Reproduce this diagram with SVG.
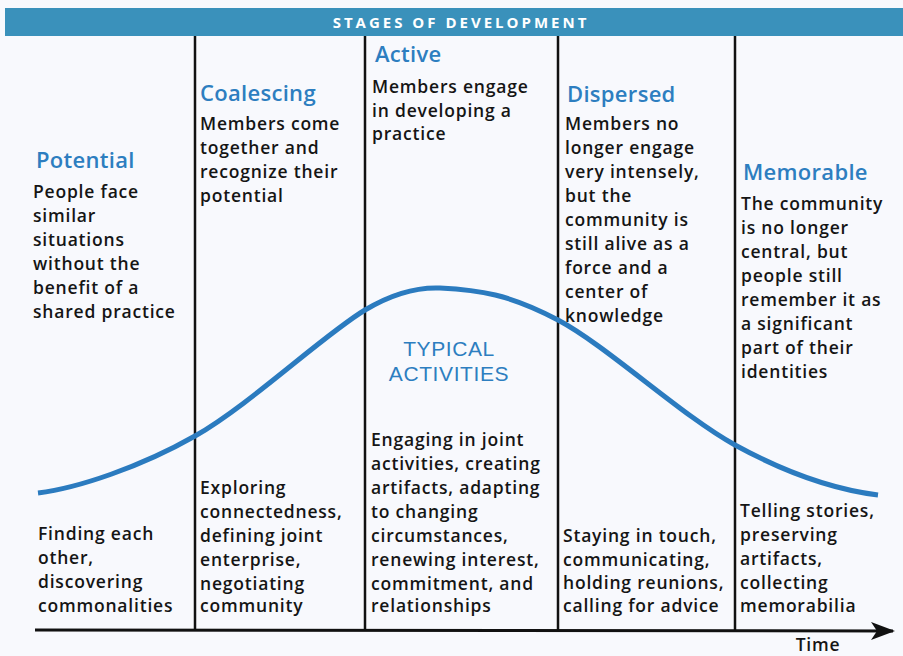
<svg xmlns="http://www.w3.org/2000/svg" width="903" height="656" viewBox="0 0 903 656">
<defs>
<style>
.t{font-family:"Open Sans","DejaVu Sans",sans-serif;font-size:22px;fill:#2D7EC0;font-weight:600;letter-spacing:0.3px}
.b{font-family:"Open Sans","DejaVu Sans",sans-serif;font-size:17.5px;fill:#151515;font-weight:600;letter-spacing:0.8px}
.h{font-family:"Open Sans","DejaVu Sans",sans-serif;font-size:15px;fill:#fff;font-weight:bold;letter-spacing:3px}
.a{font-family:"Liberation Sans","Open Sans",sans-serif;font-size:21px;fill:#2D7EC0;letter-spacing:0.6px}
.div{stroke:#111;stroke-width:2.5}
</style>
<marker id="ah" viewBox="0 0 24 18" refX="22" refY="9" markerWidth="24" markerHeight="18" markerUnits="userSpaceOnUse" orient="auto">
<path d="M0,0 L24,9 L0,18 L6,9 Z" fill="#111"/>
</marker>
</defs>
<rect width="903" height="656" fill="#F8F9FD"/>
<g id="header">
<rect x="5" y="8" width="898" height="28" fill="#3A91BB"/>
<text class="h" x="461" y="27.5" text-anchor="middle">STAGES OF DEVELOPMENT</text>
</g>
<g id="connectors">
<line class="div" x1="195" y1="36" x2="195" y2="630"/>
<line class="div" x1="365" y1="36" x2="365" y2="630"/>
<line class="div" x1="558" y1="36" x2="558" y2="630"/>
<line class="div" x1="735" y1="36" x2="735" y2="630"/>
<line x1="35" y1="630" x2="893" y2="631" stroke="#111" stroke-width="3" marker-end="url(#ah)"/>
<path d="M38,493 C78,488 140.5,467 195,436 C249.5,405 324,334.5 365,310 C390,295 415,287 440,288 C479,290 509,294 558,320 C607,346 682,416 735,445 C788,474 838,490 878,495" fill="none" stroke="#2B7BBF" stroke-width="5"/>
</g>
<g id="time"><text class="b" x="818" y="651" font-size="19" text-anchor="middle">Time</text></g>
<g id="potential">
<text class="t" x="36" y="168">Potential</text>
<text class="b"><tspan x="33" y="198">People face</tspan><tspan x="33" y="222">similar</tspan><tspan x="33" y="246">situations</tspan><tspan x="33" y="270">without the</tspan><tspan x="33" y="294">benefit of a</tspan><tspan x="33" y="318">shared practice</tspan></text>
</g>
<g id="coalescing">
<text class="t" x="200" y="101">Coalescing</text>
<text class="b"><tspan x="200" y="130">Members come</tspan><tspan x="200" y="154">together and</tspan><tspan x="200" y="178">recognize their</tspan><tspan x="200" y="202">potential</tspan></text>
</g>
<g id="active">
<text class="t" x="375" y="62">Active</text>
<text class="b"><tspan x="372" y="93">Members engage</tspan><tspan x="372" y="117">in developing a</tspan><tspan x="372" y="140">practice</tspan></text>
</g>
<g id="dispersed">
<text class="t" x="567" y="102">Dispersed</text>
<text class="b"><tspan x="565" y="130">Members no</tspan><tspan x="565" y="154">longer engage</tspan><tspan x="565" y="178">very intensely,</tspan><tspan x="565" y="202">but the</tspan><tspan x="565" y="226">community is</tspan><tspan x="565" y="250">still alive as a</tspan><tspan x="565" y="274">force and a</tspan><tspan x="565" y="298">center of</tspan><tspan x="565" y="322">knowledge</tspan></text>
</g>
<g id="memorable">
<text class="t" x="743" y="180">Memorable</text>
<text class="b"><tspan x="741" y="210">The community</tspan><tspan x="741" y="234">is no longer</tspan><tspan x="741" y="258">central, but</tspan><tspan x="741" y="282">people still</tspan><tspan x="741" y="306">remember it as</tspan><tspan x="741" y="330">a significant</tspan><tspan x="741" y="354">part of their</tspan><tspan x="741" y="378">identities</tspan></text>
</g>
<g id="typical">
<text class="a" x="449" y="356" text-anchor="middle">TYPICAL</text>
<text class="a" x="449" y="381" text-anchor="middle">ACTIVITIES</text>
</g>
<g id="act-potential">
<text class="b"><tspan x="38" y="540">Finding each</tspan><tspan x="38" y="564">other,</tspan><tspan x="38" y="588">discovering</tspan><tspan x="38" y="612">commonalities</tspan></text>
</g>
<g id="act-coalescing">
<text class="b"><tspan x="200" y="494">Exploring</tspan><tspan x="200" y="518">connectedness,</tspan><tspan x="200" y="542">defining joint</tspan><tspan x="200" y="566">enterprise,</tspan><tspan x="200" y="590">negotiating</tspan><tspan x="200" y="612">community</tspan></text>
</g>
<g id="act-active">
<text class="b"><tspan x="371" y="446">Engaging in joint</tspan><tspan x="371" y="470">activities, creating</tspan><tspan x="371" y="494">artifacts, adapting</tspan><tspan x="371" y="518">to changing</tspan><tspan x="371" y="542">circumstances,</tspan><tspan x="371" y="566">renewing interest,</tspan><tspan x="371" y="590">commitment, and</tspan><tspan x="371" y="612">relationships</tspan></text>
</g>
<g id="act-dispersed">
<text class="b"><tspan x="563" y="542">Staying in touch,</tspan><tspan x="563" y="566">communicating,</tspan><tspan x="563" y="589">holding reunions,</tspan><tspan x="563" y="612">calling for advice</tspan></text>
</g>
<g id="act-memorable">
<text class="b"><tspan x="740" y="517">Telling stories,</tspan><tspan x="740" y="541">preserving</tspan><tspan x="740" y="565">artifacts,</tspan><tspan x="740" y="589">collecting</tspan><tspan x="740" y="612">memorabilia</tspan></text>
</g>
</svg>
